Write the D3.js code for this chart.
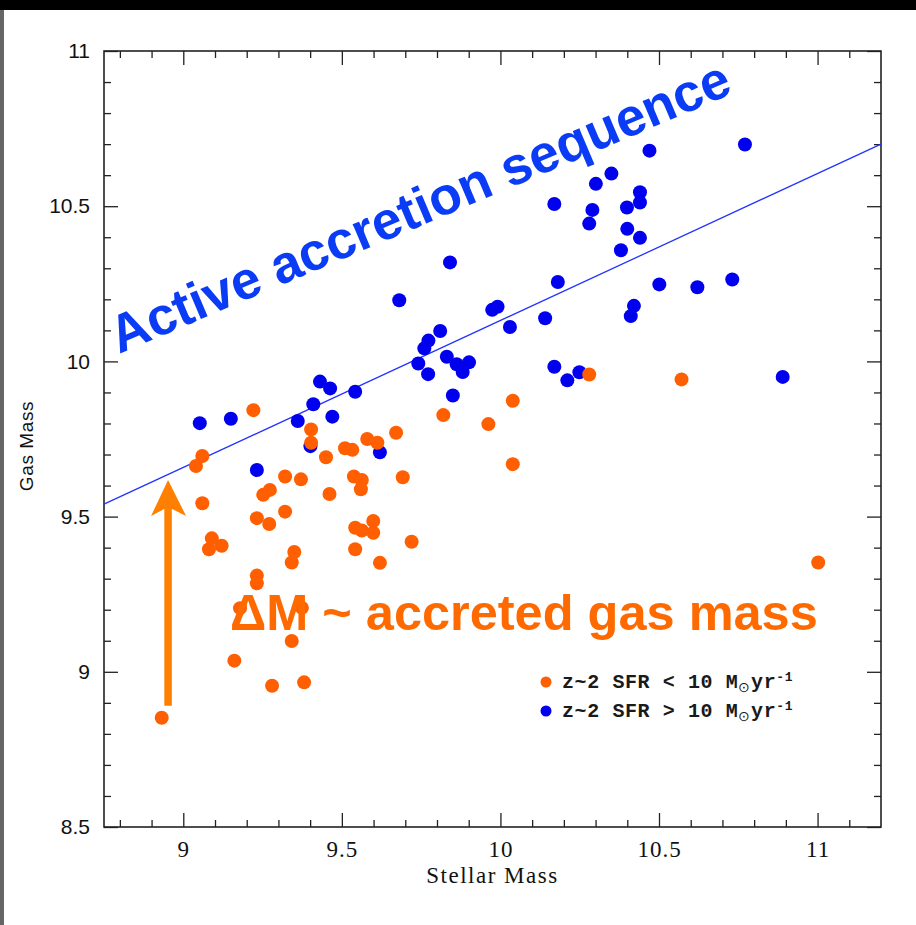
<!DOCTYPE html>
<html>
<head>
<meta charset="utf-8">
<script src="https://cdn.jsdelivr.net/npm/d3@7"></script>
<style>
  html, body { margin: 0; padding: 0; background: #fff; }
  svg { display: block; }
</style>
</head>
<body>
<svg id="chart" width="916" height="925"></svg>
<script>
// z~2 galaxies, SFR < 10 Msun/yr (orange)
const lowX = [9.221, 9.403, 9.403, 9.060, 9.040, 9.450, 9.510, 9.533, 9.321, 9.371,
  9.273, 9.252, 9.060, 9.461, 9.321, 9.232, 9.271, 9.090, 9.121, 9.081,
  9.350, 9.342, 10.039, 9.820, 9.962, 9.671, 9.580, 9.612, 10.039, 9.538,
  9.563, 9.560, 9.692, 9.599, 9.542, 9.563, 9.599, 9.720, 9.542, 9.620,
  9.232, 9.232, 9.179, 9.374, 9.342, 9.161, 9.280, 9.381, 8.932, 10.280,
  10.571, 11.002];
const lowY = [9.843, 9.781, 9.738, 9.695, 9.663, 9.691, 9.720, 9.715, 9.629, 9.620,
  9.586, 9.570, 9.543, 9.573, 9.516, 9.495, 9.476, 9.430, 9.406, 9.395,
  9.386, 9.352, 9.873, 9.827, 9.798, 9.770, 9.750, 9.738, 9.669, 9.629,
  9.618, 9.588, 9.627, 9.486, 9.464, 9.455, 9.448, 9.419, 9.395, 9.351,
  9.310, 9.285, 9.205, 9.206, 9.099, 9.036, 8.955, 8.966, 8.852, 9.958,
  9.942, 9.352];

// z~2 galaxies, SFR > 10 Msun/yr (blue)
const highX = [9.052, 9.150, 9.232, 9.431, 9.463, 9.410, 9.361, 9.470, 9.401, 9.542,
  9.741, 9.772, 9.850, 9.620, 9.841, 10.181, 9.681, 9.974, 9.991, 10.141,
  10.030, 9.810, 9.773, 9.760, 9.831, 9.862, 9.901, 9.881, 10.170, 10.211,
  10.249, 10.771, 10.470, 10.350, 10.301, 10.440, 10.440, 10.399, 10.170, 10.290,
  10.280, 10.400, 10.440, 10.380, 10.501, 10.621, 10.731, 10.421, 10.411, 10.890];
const highY = [9.801, 9.815, 9.650, 9.935, 9.913, 9.862, 9.808, 9.822, 9.727, 9.902,
  9.993, 9.959, 9.890, 9.707, 10.319, 10.256, 10.197, 10.166, 10.176, 10.139,
  10.111, 10.098, 10.067, 10.042, 10.015, 9.991, 9.997, 9.966, 9.983, 9.939,
  9.965, 10.699, 10.679, 10.605, 10.572, 10.545, 10.512, 10.496, 10.507, 10.488,
  10.444, 10.427, 10.398, 10.358, 10.248, 10.239, 10.264, 10.179, 10.146, 9.950];

// accretion-sequence line end points
const seqX = [8.75, 11.2];
const seqY = [9.54, 10.70];

// arrow (stellar mass, gas mass bottom -> tip)
const arrowX = 8.952;
const arrowY = [8.891, 9.618];

const xTicks = [9, 9.5, 10, 10.5, 11];
const yTicks = [8.5, 9, 9.5, 10, 10.5, 11];
const xDomain = [8.75, 11.2];
const yDomain = [8.5, 11];

const svg = d3.select("#chart");
const width = +svg.attr("width");
const height = +svg.attr("height");
const margin = { top: 51, left: 104, bottom: 98, right: 35 };

const x = d3.scaleLinear().domain(xDomain).range([margin.left, width - margin.right]);
const y = d3.scaleLinear().domain(yDomain).range([height - margin.bottom, margin.top]);

const orange = "#ff5f00";
const blue = "#0000ee";

// slide border bits
svg.append("rect").attr("width", width).attr("height", height).attr("fill", "#fff");
svg.append("rect").attr("width", width).attr("height", 10).attr("fill", "#000");
svg.append("rect").attr("y", 10).attr("width", 4).attr("height", height - 10).attr("fill", "#666");

// minor tick values
const xMinor = d3.range(88, 112).map((d) => d / 10).filter((d) => !xTicks.includes(d));
const yMinor = d3.range(86, 110).map((d) => d / 10).filter((d) => !yTicks.includes(d));

const axisStyle = (g) => {
  g.select(".domain").remove();
  g.selectAll("line").attr("stroke", "#222").attr("stroke-width", 1.3);
};

// bottom
svg.append("g")
  .attr("transform", `translate(0,${y.range()[0]})`)
  .call(d3.axisBottom(x).tickValues(xTicks).tickSize(-14).tickSizeOuter(0).tickPadding(14).tickFormat(d3.format("")))
  .call(axisStyle)
  .call((g) => g.selectAll("text")
    .attr("font-family", "Liberation Serif")
    .attr("font-size", 23)
    .attr("letter-spacing", 1)
    .attr("fill", "#111"));
svg.append("g")
  .attr("transform", `translate(0,${y.range()[0]})`)
  .call(d3.axisBottom(x).tickValues(xMinor).tickSize(-7).tickFormat(""))
  .call(axisStyle);

// top
svg.append("g")
  .attr("transform", `translate(0,${y.range()[1]})`)
  .call(d3.axisTop(x).tickValues(xTicks).tickSize(-14).tickFormat(""))
  .call(axisStyle);
svg.append("g")
  .attr("transform", `translate(0,${y.range()[1]})`)
  .call(d3.axisTop(x).tickValues(xMinor).tickSize(-7).tickFormat(""))
  .call(axisStyle);

// left
svg.append("g")
  .attr("transform", `translate(${x.range()[0]},0)`)
  .call(d3.axisLeft(y).tickValues(yTicks).tickSize(-14).tickPadding(14).tickFormat(d3.format("")))
  .call(axisStyle)
  .call((g) => g.selectAll("text")
    .attr("font-family", "Liberation Sans")
    .attr("font-size", 21)
    .attr("fill", "#111"));
svg.append("g")
  .attr("transform", `translate(${x.range()[0]},0)`)
  .call(d3.axisLeft(y).tickValues(yMinor).tickSize(-7).tickFormat(""))
  .call(axisStyle);

// right
svg.append("g")
  .attr("transform", `translate(${x.range()[1]},0)`)
  .call(d3.axisRight(y).tickValues(yTicks).tickSize(-14).tickFormat(""))
  .call(axisStyle);
svg.append("g")
  .attr("transform", `translate(${x.range()[1]},0)`)
  .call(d3.axisRight(y).tickValues(yMinor).tickSize(-7).tickFormat(""))
  .call(axisStyle);

// frame
svg.append("rect")
  .attr("x", x.range()[0])
  .attr("y", y.range()[1])
  .attr("width", x.range()[1] - x.range()[0])
  .attr("height", y.range()[0] - y.range()[1])
  .attr("fill", "none")
  .attr("stroke", "#222")
  .attr("stroke-width", 1.6);

// axis titles
svg.append("text")
  .attr("x", (x.range()[0] + x.range()[1]) / 2)
  .attr("y", 883)
  .attr("text-anchor", "middle")
  .attr("font-family", "Liberation Serif")
  .attr("font-size", 23)
  .attr("letter-spacing", 1.5)
  .attr("fill", "#111")
  .text("Stellar Mass");

svg.append("text")
  .attr("transform", `translate(33,446) rotate(-90)`)
  .attr("text-anchor", "middle")
  .attr("font-family", "Liberation Sans")
  .attr("font-size", 19)
  .attr("letter-spacing", 0.6)
  .attr("fill", "#111")
  .text("Gas Mass");

// accretion sequence line
svg.append("line")
  .attr("x1", x(seqX[0])).attr("y1", y(seqY[0]))
  .attr("x2", x(seqX[1])).attr("y2", y(seqY[1]))
  .attr("stroke", "#2233ff")
  .attr("stroke-width", 1.3);

// points: blue below, orange on top
svg.append("g")
  .selectAll("circle")
  .data(d3.zip(highX, highY))
  .join("circle")
  .attr("cx", (d) => x(d[0]))
  .attr("cy", (d) => y(d[1]))
  .attr("r", 7)
  .attr("fill", blue);

svg.append("g")
  .selectAll("circle")
  .data(d3.zip(lowX, lowY))
  .join("circle")
  .attr("cx", (d) => x(d[0]))
  .attr("cy", (d) => y(d[1]))
  .attr("r", 7)
  .attr("fill", orange);

// arrow
const ax = x(arrowX);
const tipY = y(arrowY[1]);
svg.append("line")
  .attr("x1", ax).attr("y1", y(arrowY[0]))
  .attr("x2", ax).attr("y2", tipY + 24)
  .attr("stroke", "#ff7f00")
  .attr("stroke-width", 7.5);
svg.append("path")
  .attr("d", `M${ax},${tipY} L${ax + 18},${tipY + 36} L${ax},${tipY + 27} L${ax - 17},${tipY + 36} Z`)
  .attr("fill", "#ff7f00");

// annotations
svg.append("text")
  .attr("transform", `translate(${x(8.797)},${y(10.024)}) rotate(-23)`)
  .attr("font-family", "Liberation Sans")
  .attr("font-weight", "bold")
  .attr("font-size", 53)
  .attr("fill", "#0a3cf5")
  .text("Active accretion sequence");

svg.append("text")
  .attr("x", x(9.147))
  .attr("y", y(9.135))
  .attr("font-family", "Liberation Sans")
  .attr("font-weight", "bold")
  .attr("font-size", 50.5)
  .attr("fill", "#ff6a00")
  .text("ΔM ~ accreted gas mass");

// legend
const legend = svg.append("g")
  .attr("font-family", "Liberation Mono")
  .attr("font-weight", "bold")
  .attr("font-size", 20)
  .attr("fill", "#1a1a1a");
[["<", orange, 688], [">", blue, 717]].forEach(([op, c, by]) => {
  legend.append("circle").attr("cx", 546).attr("cy", by - 6).attr("r", 5.5).attr("fill", c);
  const t = legend.append("text").attr("x", 562).attr("y", by).attr("letter-spacing", 0.6);
  t.append("tspan").text(`z~2 SFR ${op} 10 M`);
  t.append("tspan").attr("dy", 4).attr("font-size", 14).attr("font-weight", "normal").text("⊙");
  t.append("tspan").attr("dy", -4).text("yr");
  t.append("tspan").attr("dy", -7).attr("font-size", 13).text("-1");
});
</script>
</body>
</html>
